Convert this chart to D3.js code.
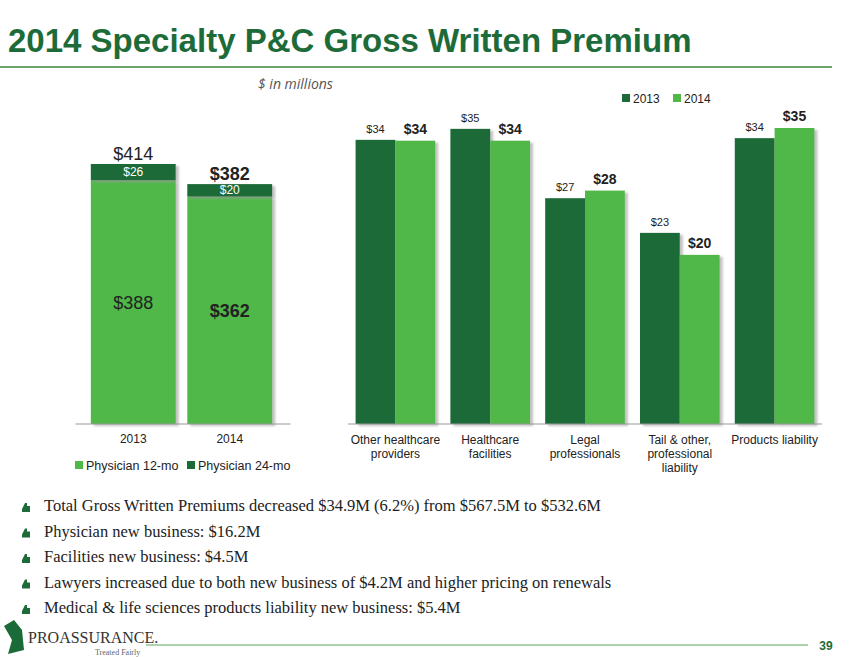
<!DOCTYPE html>
<html lang="en">
<head>
<meta charset="UTF-8">
<script src="https://d3js.org/d3.v7.min.js"></script>
<style>
  body { margin: 0; background: #fff; }
  text { font-family: Arial, "Liberation Sans", sans-serif; }
</style>
</head>
<body>
<svg width="850" height="657"></svg>
<script>
const years = ["2013", "2014"];
const phys12 = [388, 362];
const phys24 = [26, 20];
const physTotal = [414, 382];

const segments = ["Other healthcare providers", "Healthcare facilities", "Legal professionals", "Tail & other, professional liability", "Products liability"];
const segLines = [["Other healthcare", "providers"], ["Healthcare", "facilities"], ["Legal", "professionals"], ["Tail & other,", "professional", "liability"], ["Products liability"]];
const seg2013 = [33.6, 34.9, 26.7, 22.6, 33.8];
const seg2014 = [33.5, 33.5, 27.6, 20.0, 35.0];

const bullets = [
  "Total Gross Written Premiums decreased $34.9M (6.2%) from $567.5M to $532.6M",
  "Physician new business: $16.2M",
  "Facilities new business: $4.5M",
  "Lawyers increased due to both new business of $4.2M and higher pricing on renewals",
  "Medical & life sciences products liability new business: $5.4M"
];

const dark = "#1a6b38", light = "#4fb848", titleGreen = "#1e6b3a";
const svg = d3.select("svg");
const defs = svg.append("defs");
const f = defs.append("filter").attr("id", "sh").attr("x", "-10%").attr("y", "-10%").attr("width", "130%").attr("height", "130%");
f.append("feDropShadow").attr("dx", 3).attr("dy", 2).attr("stdDeviation", 1.2).attr("flood-color", "#999").attr("flood-opacity", 0.6);

// title
svg.append("text").attr("x", 8).attr("y", 52).attr("fill", titleGreen)
  .style("font-size", "33px").style("font-weight", "bold").text("2014 Specialty P&C Gross Written Premium");
svg.append("line").attr("x1", 0).attr("x2", 832).attr("y1", 67).attr("y2", 67).attr("stroke", "#3a8a3a").attr("stroke-width", 1.5);
svg.append("text").attr("x", 258).attr("y", 89).attr("fill", "#555")
  .style("font-style", "italic").style("font-size", "14px").style("font-family", "'Open Sans', sans-serif").text("$ in millions");

// left stacked chart
const base = 424;
const xl = d3.scaleBand().domain(years).range([86, 277]).paddingInner(0.12).paddingOuter(0.05);
const yl = d3.scaleLinear().domain([0, 414]).range([base, 164]);
const gl = svg.append("g");
years.forEach((yr, i) => {
  const x = xl(yr), w = xl.bandwidth();
  gl.append("rect").attr("x", x).attr("y", yl(phys12[i])).attr("width", w).attr("height", base - yl(phys12[i])).attr("fill", light).attr("filter", "url(#sh)");
  gl.append("rect").attr("x", x).attr("y", yl(physTotal[i])).attr("width", w).attr("height", yl(phys12[i]) - yl(physTotal[i])).attr("fill", dark).attr("filter", "url(#sh)");
  const cx = x + w / 2, b = i === 1 ? "bold" : "normal";
  gl.append("text").attr("x", cx).attr("y", (yl(phys12[i]) + yl(physTotal[i])) / 2 + 4).attr("text-anchor", "middle").attr("fill", "#fff").style("font-size", "12px").text("$" + phys24[i]);
  gl.append("text").attr("x", cx).attr("y", yl(phys12[i] / 2) + 7).attr("text-anchor", "middle").attr("fill", "#222").style("font-size", "18px").style("font-weight", b).text("$" + phys12[i]);
  gl.append("text").attr("x", cx).attr("y", yl(physTotal[i]) - 4).attr("text-anchor", "middle").attr("fill", "#222").style("font-size", "18px").style("font-weight", b).text("$" + physTotal[i]);
});
gl.append("g").attr("transform", `translate(0,${base})`)
  .call(d3.axisBottom(xl).tickSize(0).tickPadding(10))
  .call(g => g.select(".domain").attr("stroke", "#999").attr("d", "M75.5,0H290.5"))
  .call(g => g.selectAll("text").style("font-size", "12px").attr("fill", "#222"));
[["Physician 12-mo", light, 75], ["Physician 24-mo", dark, 187]].forEach(([t, c, x]) => {
  gl.append("rect").attr("x", x).attr("y", 461).attr("width", 8).attr("height", 8).attr("fill", c);
  gl.append("text").attr("x", x + 11).attr("y", 470).style("font-size", "12.5px").attr("fill", "#222").text(t);
});

// right grouped chart
const xr = d3.scaleBand().domain(segments).range([348, 822]).paddingInner(0.16).paddingOuter(0.08);
const xs = d3.scaleBand().domain(years).range([0, xr.bandwidth()]).padding(0);
const yr = d3.scaleLinear().domain([0, 35]).range([base, 128]);
const gr = svg.append("g");
segments.forEach((s, i) => {
  [[seg2013[i], "2013", dark, false], [seg2014[i], "2014", light, true]].forEach(([v, yrk, c, b]) => {
    const x = xr(s) + xs(yrk);
    gr.append("rect").attr("x", x).attr("y", yr(v)).attr("width", xs.bandwidth()).attr("height", base - yr(v)).attr("fill", c).attr("filter", "url(#sh)");
    gr.append("text").attr("x", x + xs.bandwidth() / 2).attr("y", yr(v) - 7).attr("text-anchor", "middle").attr("fill", "#222")
      .style("font-size", b ? "14px" : "11px").style("font-weight", b ? "bold" : "normal").text("$" + Math.round(v));
  });
  segLines[i].forEach((l, k) => {
    gr.append("text").attr("x", xr(s) + xr.bandwidth() / 2).attr("y", 444 + k * 14).attr("text-anchor", "middle").attr("fill", "#222").style("font-size", "12px").text(l);
  });
});
gr.append("line").attr("x1", 348).attr("x2", 822).attr("y1", base).attr("y2", base).attr("stroke", "#999");
[["2013", dark, 622], ["2014", light, 673]].forEach(([t, c, x]) => {
  gr.append("rect").attr("x", x).attr("y", 94).attr("width", 8).attr("height", 8).attr("fill", c);
  gr.append("text").attr("x", x + 11).attr("y", 103).style("font-size", "12px").attr("fill", "#222").text(t);
});

// bullets
bullets.forEach((t, i) => {
  const y = 510 + i * 25.5;
  svg.append("path").attr("d", `M22,${y - 1} l3,-6 l2,0 l0,3 l3,0 l0,6 l-8,0 z`).attr("fill", titleGreen);
  svg.append("text").attr("x", 44).attr("y", y + 1).attr("fill", "#222")
    .style("font-family", "'Liberation Serif', 'DejaVu Serif', serif").style("font-size", "16.5px").text(t);
});

// footer
svg.append("path").attr("d", "M4,626 L14,620 L22,630 L24,650 L8,654 L12,640 Z").attr("fill", dark);
svg.append("text").attr("x", 28).attr("y", 643).attr("fill", "#333").style("font-family", "'Liberation Serif', serif").style("font-size", "16px").text("PROASSURANCE.");
svg.append("text").attr("x", 95).attr("y", 655).attr("fill", "#666").style("font-family", "'Liberation Serif', serif").style("font-size", "8px").text("Treated Fairly");
svg.append("line").attr("x1", 146).attr("x2", 808).attr("y1", 645).attr("y2", 645).attr("stroke", "#5aa85a").attr("stroke-width", 1);
svg.append("text").attr("x", 826).attr("y", 650).attr("text-anchor", "middle").attr("fill", titleGreen).style("font-size", "12px").style("font-weight", "bold").text("39");
</script>
</body>
</html>
